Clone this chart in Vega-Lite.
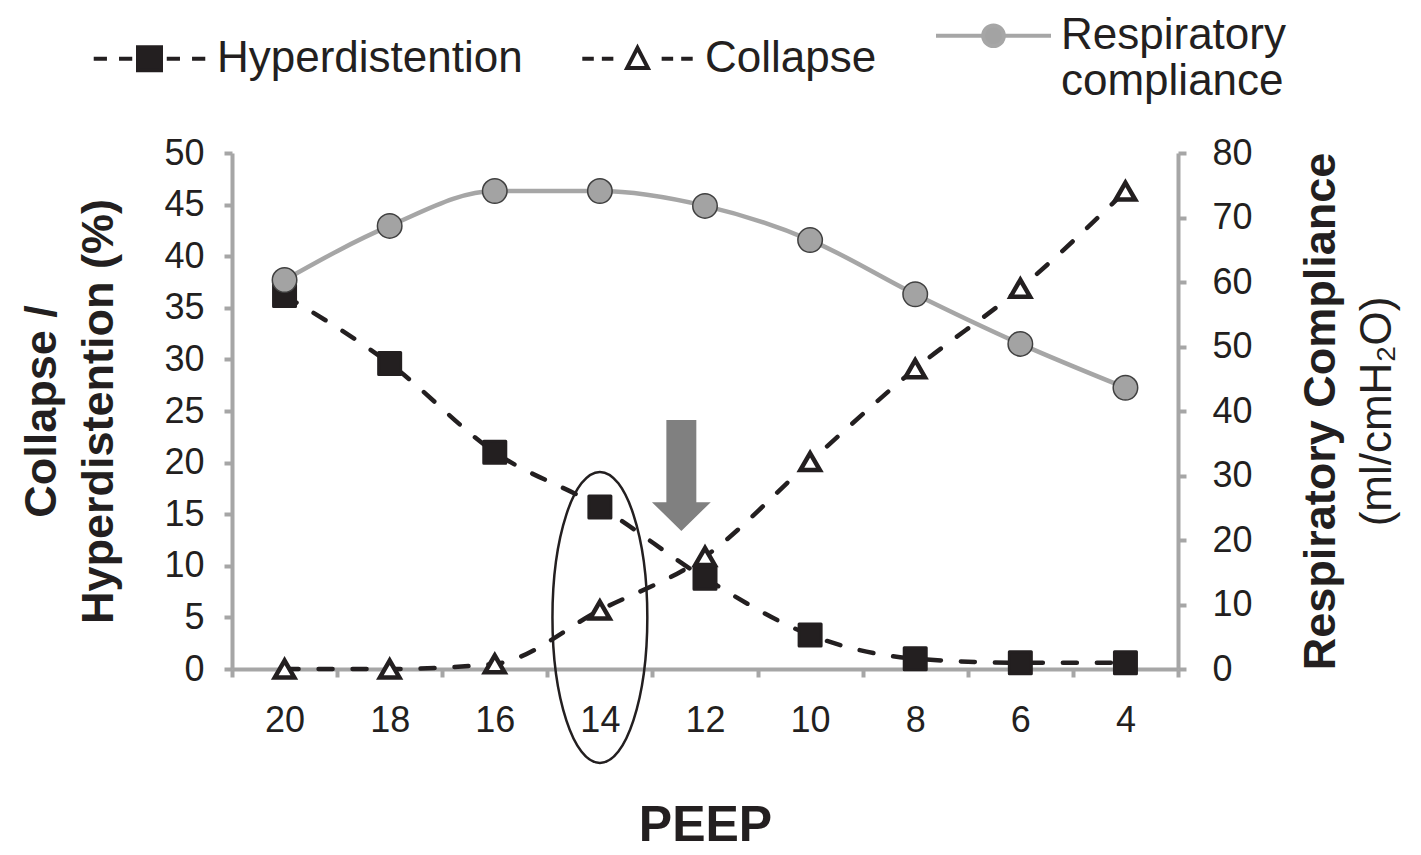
{
  "$schema": "https://vega.github.io/schema/vega-lite/v6.json",
  "width": 946,
  "height": 516,
  "autosize": {"type": "none"},
  "padding": {"left": 232, "top": 153, "right": 243, "bottom": 186},
  "background": "white",
  "config": {
    "font": "Liberation Sans",
    "view": {"stroke": null},
    "axis": {
      "grid": false,
      "domainColor": "#a6a6a6",
      "domainWidth": 4,
      "tickColor": "#a6a6a6",
      "tickWidth": 4,
      "tickSize": 8,
      "labelFontSize": 36,
      "labelColor": "#231f20",
      "titleColor": "#231f20",
      "titleFont": "Liberation Sans"
    },
    "legend": {
      "orient": "none",
      "legendX": -142,
      "legendY": -177,
      "direction": "horizontal",
      "padding": 0,
      "symbolSize": 13225,
      "symbolStrokeWidth": 4,
      "labelFont": "Liberation Sans",
      "labelFontSize": 44,
      "labelLimit": 0,
      "labelColor": "#231f20",
      "labelOffset": 8,
      "columnPadding": 51
    }
  },
  "datasets": {
    "percent": [
      {"peep": 20, "series": "Hyperdistention", "pct": 36.2},
      {"peep": 18, "series": "Hyperdistention", "pct": 29.6},
      {"peep": 16, "series": "Hyperdistention", "pct": 21.0},
      {"peep": 14, "series": "Hyperdistention", "pct": 15.7},
      {"peep": 12, "series": "Hyperdistention", "pct": 8.8},
      {"peep": 10, "series": "Hyperdistention", "pct": 3.3},
      {"peep": 8, "series": "Hyperdistention", "pct": 1.0},
      {"peep": 6, "series": "Hyperdistention", "pct": 0.6},
      {"peep": 4, "series": "Hyperdistention", "pct": 0.6},
      {"peep": 20, "series": "Collapse", "pct": 0.0},
      {"peep": 18, "series": "Collapse", "pct": 0.0},
      {"peep": 16, "series": "Collapse", "pct": 0.5},
      {"peep": 14, "series": "Collapse", "pct": 5.7},
      {"peep": 12, "series": "Collapse", "pct": 10.9},
      {"peep": 10, "series": "Collapse", "pct": 20.1},
      {"peep": 8, "series": "Collapse", "pct": 29.1},
      {"peep": 6, "series": "Collapse", "pct": 36.9},
      {"peep": 4, "series": "Collapse", "pct": 46.3}
    ],
    "compliance": [
      {"peep": 20, "series": "Respiratory compliance", "comp": 60.3},
      {"peep": 18, "series": "Respiratory compliance", "comp": 68.7},
      {"peep": 16, "series": "Respiratory compliance", "comp": 74.1},
      {"peep": 14, "series": "Respiratory compliance", "comp": 74.1},
      {"peep": 12, "series": "Respiratory compliance", "comp": 71.8},
      {"peep": 10, "series": "Respiratory compliance", "comp": 66.5},
      {"peep": 8, "series": "Respiratory compliance", "comp": 58.1},
      {"peep": 6, "series": "Respiratory compliance", "comp": 50.4},
      {"peep": 4, "series": "Respiratory compliance", "comp": 43.6}
    ],
    "notes": [
      {"note": "optimum", "peep": 12.45, "pct": 18.75},
      {"note": "selected", "peep": 14, "pct": 5}
    ]
  },
  "encoding": {
    "x": {
      "field": "peep",
      "type": "quantitative",
      "scale": {"domain": [3, 21], "reverse": true, "nice": false, "zero": false},
      "axis": {
        "values": [3, 4, 5, 6, 7, 8, 9, 10, 11, 12, 13, 14, 15, 16, 17, 18, 19, 20, 21],
        "labelExpr": "datum.value % 2 == 0 ? datum.label : ''",
        "tickOpacity": {"expr": "datum.value % 2 == 0 ? 0 : 1"},
        "labelPadding": 26,
        "labelFlush": false,
        "labelOverlap": false,
        "title": "PEEP",
        "titleFontSize": 50,
        "titleFontWeight": "bold",
        "titlePadding": 62
      }
    }
  },
  "layer": [
    {
      "data": {"name": "percent"},
      "encoding": {
        "y": {
          "field": "pct",
          "type": "quantitative",
          "scale": {"domain": [0, 50], "nice": false},
          "axis": {
            "orient": "left",
            "values": [0, 5, 10, 15, 20, 25, 30, 35, 40, 45, 50],
            "labelPadding": 20,
            "title": ["Collapse /", "Hyperdistention  (%)"],
            "titleFontSize": 45,
            "titleFontWeight": "bold",
            "titleLineHeight": 57,
            "titlePadding": 42
          }
        }
      },
      "layer": [
        {
          "mark": {"type": "line", "interpolate": "monotone", "color": "#231f20", "strokeWidth": 4.5, "strokeDash": [14, 20], "strokeCap": "round"},
          "encoding": {"detail": {"field": "series"}}
        },
        {
          "transform": [{"filter": "datum.series == 'Hyperdistention'"}],
          "mark": {"type": "point", "shape": "square", "size": 484, "filled": true, "fill": "#231f20", "stroke": "#231f20", "strokeWidth": 3, "strokeJoin": "round", "opacity": 1}
        },
        {
          "transform": [{"filter": "datum.series == 'Collapse'"}],
          "mark": {"type": "point", "shape": "triangle-up", "size": 380, "fill": "white", "stroke": "#231f20", "strokeWidth": 4.5, "opacity": 1}
        },
        {
          "data": {"name": "notes"},
          "transform": [{"filter": "datum.note == 'optimum'"}],
          "mark": {"type": "point", "shape": "M-0.27,-1L0.27,-1L0.27,0.48L0.53,0.48L0,1L-0.53,0.48L-0.27,0.48Z", "size": 12321, "filled": true, "fill": "#808080", "strokeWidth": 0, "opacity": 1}
        },
        {
          "data": {"name": "notes"},
          "transform": [{"filter": "datum.note == 'selected'"}],
          "mark": {"type": "point", "shape": "M0,-1A0.326,1,0,1,1,0,1A0.326,1,0,1,1,0,-1Z", "size": 84681, "filled": false, "fill": "transparent", "stroke": "#231f20", "strokeWidth": 2.5, "opacity": 1}
        }
      ]
    },
    {
      "data": {"name": "compliance"},
      "encoding": {
        "y": {
          "field": "comp",
          "type": "quantitative",
          "scale": {"domain": [0, 80], "nice": false},
          "axis": {
            "orient": "right",
            "values": [0, 10, 20, 30, 40, 50, 60, 70, 80],
            "labelPadding": 26,
            "title": "Respiratory Compliance",
            "titleFontSize": 45,
            "titleFontWeight": "bold",
            "titleAngle": 270,
            "titleBaseline": "top",
            "titlePadding": 46
          }
        }
      },
      "layer": [
        {"mark": {"type": "line", "interpolate": "monotone", "color": "#a6a6a6", "strokeWidth": 4.5}}
      ]
    },
    {
      "data": {"name": "compliance"},
      "encoding": {
        "y": {
          "field": "comp",
          "type": "quantitative",
          "scale": {"domain": [0, 80], "nice": false},
          "axis": {
            "orient": "right",
            "domain": false,
            "ticks": false,
            "labels": false,
            "title": "(ml/cmH₂O)",
            "titleFontSize": 44,
            "titleFontWeight": "normal",
            "titleAngle": 270,
            "titleBaseline": "top",
            "titlePadding": 177
          }
        }
      },
      "layer": [
        {
          "description": "Carries the series key only: no rows pass the filter, so no marks are drawn, but the fill, stroke and shape scales build the legend.",
          "transform": [{"filter": "false"}],
          "mark": {"type": "point", "filled": true, "opacity": 1, "strokeWidth": 4},
          "encoding": {
            "shape": {
              "field": "series",
              "type": "nominal",
              "scale": {
                "domain": ["Hyperdistention", "Collapse", "Respiratory compliance"],
                "range": [
                  "M-0.97,0L-0.74,0M-0.53,0L-0.3,0M0.3,0L0.53,0M0.74,0L0.97,0M-0.2,-0.2L0.2,-0.2L0.2,0.2L-0.2,0.2Z",
                  "M-0.96,0L-0.76,0M-0.62,0L-0.42,0M0.42,0L0.62,0M0.76,0L0.96,0M0,-0.19L0.18,0.16L-0.18,0.16Z",
                  "M-1,0L-0.18,0M0.18,0L1,0M-0.18,0A0.18,0.18,0,1,1,0.18,0A0.18,0.18,0,1,1,-0.18,0Z"
                ]
              },
              "legend": {
                "title": null,
                "labelExpr": "datum.label == 'Respiratory compliance' ? ['Respiratory', 'compliance'] : datum.label"
              }
            },
            "fill": {
              "field": "series",
              "type": "nominal",
              "scale": {
                "domain": ["Hyperdistention", "Collapse", "Respiratory compliance"],
                "range": ["#231f20", "#ffffff", "#a3a3a3"]
              },
              "legend": {
                "title": null,
                "labelExpr": "datum.label == 'Respiratory compliance' ? ['Respiratory', 'compliance'] : datum.label"
              }
            },
            "stroke": {
              "field": "series",
              "type": "nominal",
              "scale": {
                "domain": ["Hyperdistention", "Collapse", "Respiratory compliance"],
                "range": ["#231f20", "#231f20", "#a6a6a6"]
              },
              "legend": {
                "title": null,
                "labelExpr": "datum.label == 'Respiratory compliance' ? ['Respiratory', 'compliance'] : datum.label"
              }
            }
          }
        },
        {"mark": {"type": "point", "shape": "circle", "size": 600, "filled": true, "fill": "#a3a3a3", "stroke": "#404040", "strokeWidth": 1.5, "opacity": 1}}
      ]
    }
  ],
  "resolve": {"scale": {"y": "independent"}}
}
